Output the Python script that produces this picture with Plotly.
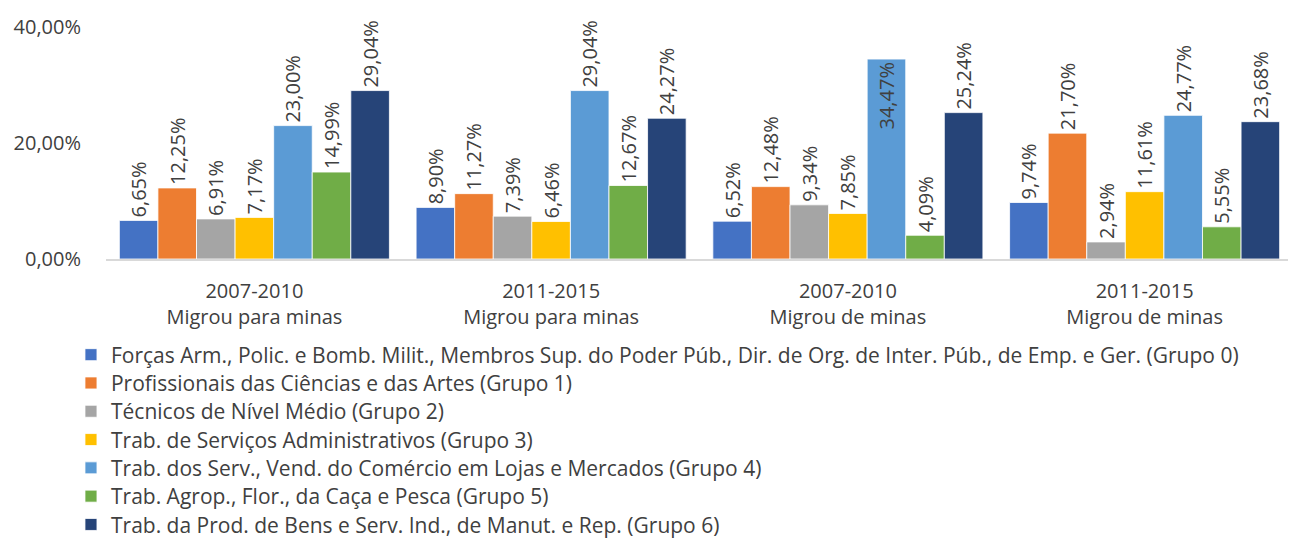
import plotly.graph_objects as go

categories = ["2007-2010<br>Migrou para minas", "2011-2015<br>Migrou para minas",
              "2007-2010<br>Migrou de minas", "2011-2015<br>Migrou de minas"]

series_names = [
    "Forças Arm., Polic. e Bomb. Milit., Membros Sup. do Poder Púb., Dir. de Org. de Inter. Púb., de Emp. e Ger. (Grupo 0)",
    "Profissionais das Ciências e das Artes (Grupo 1)",
    "Técnicos de Nível Médio (Grupo 2)",
    "Trab. de Serviços Administrativos (Grupo 3)",
    "Trab. dos Serv., Vend. do Comércio em Lojas e Mercados (Grupo 4)",
    "Trab. Agrop., Flor., da Caça e Pesca (Grupo 5)",
    "Trab. da Prod. de Bens e Serv. Ind., de Manut. e Rep. (Grupo 6)",
]

grupo0 = [6.65, 8.90, 6.52, 9.74]
grupo1 = [12.25, 11.27, 12.48, 21.70]
grupo2 = [6.91, 7.39, 9.34, 2.94]
grupo3 = [7.17, 6.46, 7.85, 11.61]
grupo4 = [23.00, 29.04, 34.47, 24.77]
grupo5 = [14.99, 12.67, 4.09, 5.55]
grupo6 = [29.04, 24.27, 25.24, 23.68]

series_values = [grupo0, grupo1, grupo2, grupo3, grupo4, grupo5, grupo6]
colors = ["#4472C4", "#ED7D31", "#A5A5A5", "#FFC000", "#5B9BD5", "#70AD47", "#264478"]

y_ticks = [0, 20, 40]
y_ticktext = ["0,00%", "20,00%", "40,00%"]

FONT = "Open Sans"
FS = 20
FS_LEG = 21
TXT = "#404040"

# layout geometry (pixels)
W, H = 1296, 545
ML, MR, MT, MB = 98, 11, 19, 294
plot_h = H - MT - MB
legend_first_row = 347   # px from top of figure
legend_row_step = 28.3

fig = go.Figure()
legend_layouts = {}
for i, (name, vals, col) in enumerate(zip(series_names, series_values, colors)):
    # labels that would not fit above the plot area go inside the bar top
    positions = ["inside" if v > 31 else "outside" for v in vals]
    leg_id = "legend" if i == 0 else f"legend{i + 1}"
    fig.add_trace(go.Bar(
        x=categories, y=vals, name=name,
        marker=dict(color=col, line=dict(color="white", width=0.8)),
        texttemplate="%{y:.2f}%",
        textposition=positions,
        insidetextanchor="end",
        textangle=-90,
        constraintext="none",
        cliponaxis=False,
        textfont=dict(family=FONT, size=FS, color=TXT),
        insidetextfont=dict(family=FONT, size=FS, color=TXT),
        outsidetextfont=dict(family=FONT, size=FS, color=TXT),
        hoverinfo="skip",
        legend=leg_id,
    ))
    row_px = legend_first_row + i * legend_row_step
    legend_layouts[leg_id] = dict(
        orientation="v", x=-0.0295, xanchor="left",
        y=-(row_px - (H - MB)) / plot_h, yanchor="middle",
        font=dict(family=FONT, size=FS_LEG, color=TXT),
        itemwidth=30, bgcolor="rgba(0,0,0,0)",
    )

fig.update_layout(
    width=W, height=H,
    margin=dict(l=ML, r=MR, t=MT, b=MB, autoexpand=False),
    paper_bgcolor="white", plot_bgcolor="white",
    separators=",.",
    barmode="group", bargap=0.09, bargroupgap=0,
    font=dict(family=FONT, size=FS, color=TXT),
    showlegend=True,
    **legend_layouts,
)
fig.update_xaxes(showline=True, linecolor="#D9D9D9", linewidth=1.5, ticks="",
                 tickfont=dict(family=FONT, size=FS, color=TXT), showgrid=False,
                 ticklabelstandoff=13)
fig.update_yaxes(range=[0, 40], tickvals=y_ticks, ticktext=y_ticktext,
                 showgrid=False, zeroline=False, showline=False,
                 tickfont=dict(family=FONT, size=FS, color=TXT), ticklabelstandoff=24)

fig.write_html("out.html")
